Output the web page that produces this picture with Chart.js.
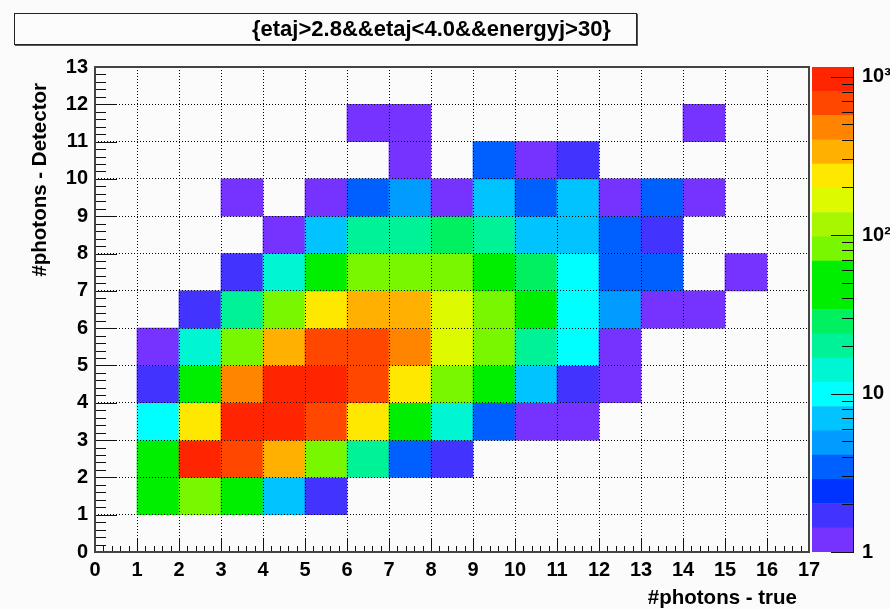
<!DOCTYPE html>
<html>
<head>
<meta charset="utf-8">
<script src="https://cdn.jsdelivr.net/npm/chart.js@4.4.1/dist/chart.umd.min.js"></script>
<style>
  html, body { margin: 0; padding: 0; background: #fbfbfb; }
  #wrap { position: relative; width: 890px; height: 609px; overflow: hidden; }
  #wrap canvas { position: absolute; left: 0; top: 0; }
  #title {
    position: absolute; left: 14px; top: 13px; width: 623px; height: 32px;
    box-sizing: border-box; border: 1px solid #222; background: #fcfcfc;
    box-shadow: 1px 1px 0 #555;
    font: bold 22px "Liberation Sans", Arial, Helvetica, sans-serif; color: #000;
    line-height: 30px; padding-left: 237px; white-space: nowrap;
  }
</style>
</head>
<body>
<div id="wrap">
  <canvas id="main" width="890" height="609"></canvas>
  <canvas id="zbar" width="890" height="609"></canvas>
  <div id="title">{etaj&gt;2.8&amp;&amp;etaj&lt;4.0&amp;&amp;energyj&gt;30}</div>
</div>
<script>
// Bin lower edges (unit-width bins)
const xBinLow = [0, 1, 2, 3, 4, 5, 6, 7, 8, 9, 10, 11, 12, 13, 14, 15, 16];
const yBinLow = [0, 1, 2, 3, 4, 5, 6, 7, 8, 9, 10, 11, 12];

// Entries per detector-photon row (index = true photon bin)
const row0  = [0,  0,   0,   0,   0,    0,   0,   0,   0,  0,  0,  0, 0, 0, 0, 0, 0];
const row1  = [0, 45,  82,  52,   7,    2,   0,   0,   0,  0,  0,  0, 0, 0, 0, 0, 0];
const row2  = [0, 40, 960, 680, 330,   80,  20,   3,   2,  0,  0,  0, 0, 0, 0, 0, 0];
const row3  = [0, 10, 235, 900, 980,  700, 240,  45,  14,  4,  1,  1, 0, 0, 0, 0, 0];
const row4  = [0,  2,  50, 470, 870, 1050, 640, 230,  85, 55,  7,  2, 1, 0, 0, 0, 0];
const row5  = [0,  1,  13,  80, 330,  700, 620, 450, 170, 75, 20, 10, 1, 0, 0, 0, 0];
const row6  = [0,  0,   2,  20,  80,  220, 320, 350, 150, 80, 50, 11, 5, 1, 1, 0, 0];
const row7  = [0,  0,   0,   2,  14,   45,  78,  90,  85, 52, 28,  9, 4, 3, 0, 1, 0];
const row8  = [0,  0,   0,   0,   1,    7,  20,  21,  28, 19,  8,  6, 3, 2, 0, 0, 0];
const row9  = [0,  0,   0,   1,   0,    1,   3,   5,   1,  7,  4,  6, 1, 3, 1, 0, 0];
const row10 = [0,  0,   0,   0,   0,    0,   0,   1,   0,  3,  1,  2, 0, 0, 0, 0, 0];
const row11 = [0,  0,   0,   0,   0,    0,   1,   1,   0,  0,  0,  0, 0, 0, 1, 0, 0];
const row12 = [0,  0,   0,   0,   0,    0,   0,   0,   0,  0,  0,  0, 0, 0, 0, 0, 0];
const counts = [row0, row1, row2, row3, row4, row5, row6, row7, row8, row9, row10, row11, row12];

// Log colour axis
const zMin = 1;
const zMax = 1150;
const zTickValues = [1, 10, 100, 1000];
const zTickLabels = ['1', '10', '10²', '10³'];
const paletteColors = [
  '#7632ff', '#4233ff', '#0033ff', '#0060ff', '#009cff',
  '#00c3ff', '#00ffff', '#00f5d3', '#00f296', '#00f060',
  '#00ee00', '#00ee00', '#79f700', '#a8f700', '#ddfa00',
  '#ffe800', '#ffb000', '#ff8400', '#ff4700', '#ff2500'
];

const FONT = '"Liberation Sans", Arial, Helvetica, sans-serif';
Chart.defaults.font.family = FONT;
Chart.defaults.color = '#000';

const zBandWidth = Math.log10(zMax / zMin) / paletteColors.length;
function colorFor(v) {
  const k = Math.floor(Math.log10(v / zMin) / zBandWidth);
  return paletteColors[Math.max(0, Math.min(paletteColors.length - 1, k))];
}

// One floating bar per filled cell
const cells = [];
counts.forEach((row, j) => row.forEach((v, i) => {
  if (v > 0) cells.push({ x: xBinLow[i] + 0.5, y: [yBinLow[j], yBinLow[j] + 1], v });
}));

// Frame, inward tick marks and axis titles
const framePlugin = {
  id: 'frame',
  afterDraw(chart) {
    const { ctx, chartArea: a, scales: { x, y } } = chart;
    ctx.save();
    ctx.strokeStyle = '#111';
    ctx.lineWidth = 1;
    ctx.beginPath();
    for (let t = 0; t <= 13.0001; t += 0.2) {
      const py = Math.round(y.getPixelForValue(t)) + 0.5;
      const major = Math.abs(t - Math.round(t)) < 1e-6;
      ctx.moveTo(a.left, py);
      ctx.lineTo(a.left + (major ? 22 : 11), py);
    }
    for (let t = 0; t <= 17.0001; t += 0.2) {
      const px = Math.round(x.getPixelForValue(t)) + 0.5;
      const major = Math.abs(t - Math.round(t)) < 1e-6;
      ctx.moveTo(px, a.bottom);
      ctx.lineTo(px, a.bottom - (major ? 13 : 6));
    }
    ctx.stroke();
    ctx.strokeStyle = '#444';
    ctx.lineWidth = 2;
    ctx.strokeRect(a.left, a.top, a.right - a.left, a.bottom - a.top);

    ctx.fillStyle = '#000';
    ctx.font = 'bold 20.5px ' + FONT;
    ctx.textBaseline = 'middle';
    ctx.textAlign = 'right';
    ctx.fillText('#photons - true', a.right - 12, 598);
    ctx.translate(40, a.top + 16);
    ctx.rotate(-Math.PI / 2);
    ctx.fillText('#photons - Detector', 0, 0);
    ctx.restore();
  }
};

new Chart(document.getElementById('main'), {
  type: 'bar',
  data: {
    datasets: [{
      data: cells,
      backgroundColor: c => colorFor(c.raw.v),
      borderWidth: 0,
      borderSkipped: false,
      barPercentage: 1,
      categoryPercentage: 1
    }]
  },
  options: {
    responsive: false,
    animation: false,
    layout: { padding: { left: 0, top: 67, right: 81, bottom: 0 } },
    plugins: { legend: { display: false }, tooltip: { enabled: false } },
    scales: {
      x: {
        type: 'linear', min: 0, max: 17, offset: false,
        grid: { offset: false, color: '#000', lineWidth: 1, drawTicks: false, z: 1 },
        border: { display: false, dash: [1, 2] },
        ticks: { stepSize: 1, autoSkip: false, maxRotation: 0, padding: 6,
                 font: { size: 20, weight: 'bold' } },
        afterFit: s => { s.height = 57; }
      },
      y: {
        type: 'linear', min: 0, max: 13,
        grid: { color: '#000', lineWidth: 1, drawTicks: false, z: 1 },
        border: { display: false, dash: [1, 2] },
        ticks: { stepSize: 1, autoSkip: false, padding: 7,
                 font: { size: 20, weight: 'bold' } },
        afterFit: s => { s.width = 95; }
      }
    }
  },
  plugins: [framePlugin]
});

// Colour scale: 20 log-spaced bands
const bandDatasets = paletteColors.map((col, k) => ({
  data: [[zMin * Math.pow(10, k * zBandWidth), zMin * Math.pow(10, (k + 1) * zBandWidth)]],
  backgroundColor: col,
  borderWidth: 0,
  borderSkipped: false,
  grouped: false,
  barPercentage: 1,
  categoryPercentage: 1
}));

const zTickPlugin = {
  id: 'zticks',
  afterDatasetsDraw(chart) {
    const { ctx, chartArea: a, scales: { y } } = chart;
    ctx.save();
    ctx.strokeStyle = '#111';
    ctx.lineWidth = 1;
    ctx.beginPath();
    zTickValues.forEach(d => {
      for (let m = 1; m <= 9; m++) {
        const v = m * d;
        if (v < zMin || v > zMax) continue;
        const py = Math.round(y.getPixelForValue(v)) + 0.5;
        ctx.moveTo(a.right, py);
        ctx.lineTo(a.right - (m === 1 ? 22 : 11), py);
      }
    });
    ctx.stroke();
    ctx.restore();
  }
};

new Chart(document.getElementById('zbar'), {
  type: 'bar',
  data: { labels: ['z'], datasets: bandDatasets },
  options: {
    responsive: false,
    animation: false,
    layout: { padding: { left: 812, top: 67, right: 0, bottom: 57 } },
    plugins: { legend: { display: false }, tooltip: { enabled: false } },
    scales: {
      x: { display: false },
      y: {
        type: 'logarithmic', position: 'right', min: zMin, max: zMax,
        grid: { display: false, drawTicks: false },
        border: { display: true, color: '#111', width: 1 },
        afterBuildTicks: s => { s.ticks = zTickValues.map(v => ({ value: v, major: true })); },
        ticks: {
          autoSkip: false, padding: 9,
          font: { size: 20, weight: 'bold' },
          callback: v => zTickLabels[zTickValues.indexOf(v)]
        },
        afterFit: s => { s.width = 37; }
      }
    }
  },
  plugins: [zTickPlugin]
});
</script>
</body>
</html>
